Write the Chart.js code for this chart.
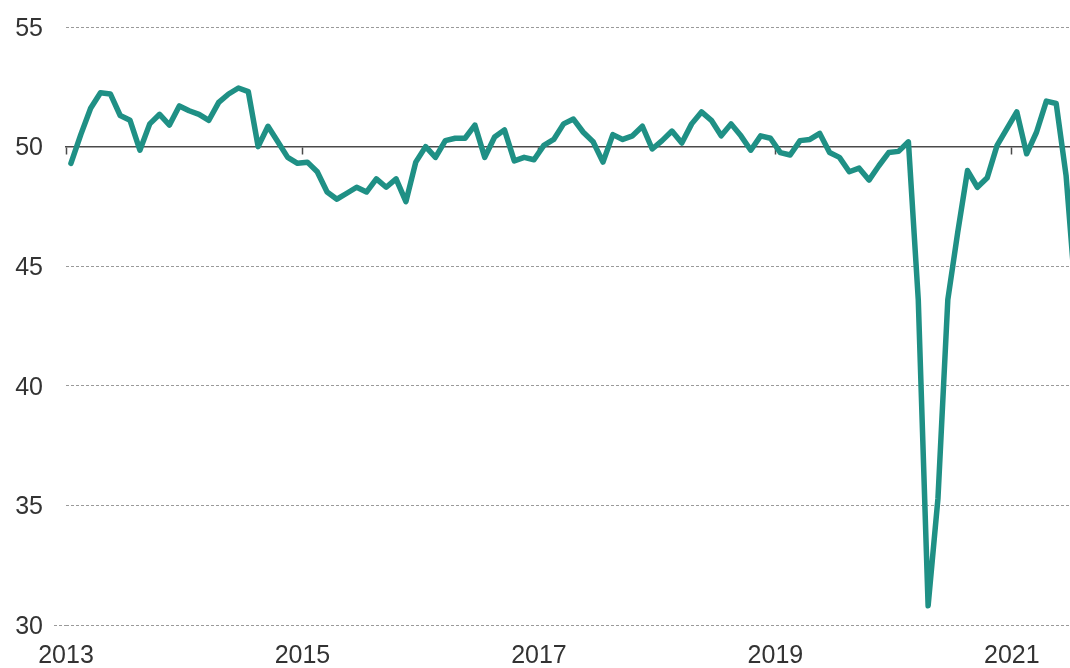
<!DOCTYPE html>
<html>
<head>
<meta charset="utf-8">
<script src="https://cdn.jsdelivr.net/npm/chart.js@4/dist/chart.umd.min.js"></script>
<style>
  html, body { margin: 0; padding: 0; background: #ffffff; }
  #wrap { width: 1070px; height: 668px; }
</style>
</head>
<body>
<div id="wrap"><canvas id="c" width="1070" height="668"></canvas></div>
<script>
// Monthly index values, Jan 2013 onward
const startYear = 2013;
const values = [
  49.3, 50.5, 51.6, 52.25, 52.2, 51.3, 51.1, 49.85, 50.95, 51.35, 50.9, 51.7,
  51.5, 51.35, 51.1, 51.85, 52.2, 52.45, 52.3, 50.0, 50.85, 50.2, 49.55, 49.3,
  49.35, 48.95, 48.1, 47.8, 48.05, 48.3, 48.1, 48.65, 48.3, 48.65, 47.7, 49.35,
  50.0, 49.55, 50.25, 50.35, 50.35, 50.9, 49.55, 50.4, 50.7, 49.4, 49.55, 49.45,
  50.05, 50.3, 50.95, 51.15, 50.6, 50.2, 49.35, 50.5, 50.3, 50.45, 50.85, 49.9,
  50.25, 50.65, 50.15, 50.95, 51.45, 51.1, 50.45, 50.95, 50.45, 49.85, 50.45, 50.35,
  49.75, 49.65, 50.25, 50.3, 50.55, 49.75, 49.55, 48.95, 49.1, 48.6, 49.2, 49.75,
  49.8, 50.2, 43.6, 30.8, 35.3, 43.6, 46.4, 49.0, 48.3, 48.7, 50.05, 50.75,
  51.45, 49.7, 50.6, 51.9, 51.8, 48.8, 43.6
];
const xTickValues = [0, 24, 48, 72, 96];          // months since Jan 2013
const xTickLabels = ['2013', '2015', '2017', '2019', '2021'];
const yTickValues = [30, 35, 40, 45, 50, 55];
const yMin = 30, yMax = 55;
const xMin = 0, xMax = 101.9;

const points = values.map((v, i) => ({ x: i + 0.5, y: v }));

const FONT = { family: "'Liberation Sans', Arial, sans-serif", size: 25, lineHeight: 1 };
const TEXT = '#333333';
const GRID = '#9a9a9a';
const AXIS = '#4a4a4a';

const setXTicks = (axis) => { axis.ticks = xTickValues.map(v => ({ value: v })); };

new Chart(document.getElementById('c'), {
  type: 'line',
  data: {
    datasets: [{
      data: points,
      borderColor: '#1f9085',
      borderWidth: 5.5,
      pointRadius: 0,
      tension: 0,
      borderJoinStyle: 'round',
      borderCapStyle: 'round',
      fill: false
    }]
  },
  options: {
    responsive: false,
    devicePixelRatio: 1,
    animation: false,
    layout: { padding: { top: 27, right: 0, bottom: 0, left: 0 } },
    plugins: { legend: { display: false }, tooltip: { enabled: false } },
    scales: {
      x: {
        type: 'linear',
        position: 'bottom',
        min: xMin, max: xMax,
        afterBuildTicks: setXTicks,
        afterFit: (axis) => { axis.height = 43; },
        grid: { display: false, drawTicks: false },
        border: { display: false },
        ticks: {
          color: TEXT, font: FONT, padding: 19, maxRotation: 0, autoSkip: false,
          callback: (v) => { const k = xTickValues.indexOf(v); return k >= 0 ? xTickLabels[k] : ''; }
        }
      },
      xMid: {
        type: 'linear',
        position: { y: 50 },
        min: xMin, max: xMax,
        afterBuildTicks: setXTicks,
        grid: { drawOnChartArea: false, drawTicks: true, tickLength: 7, tickColor: AXIS, tickWidth: 1.5 },
        border: { display: true, color: AXIS, width: 1.5 },
        ticks: { display: false }
      },
      y: {
        type: 'linear',
        position: 'left',
        min: yMin, max: yMax,
        afterBuildTicks: (axis) => { axis.ticks = yTickValues.map(v => ({ value: v })); },
        afterFit: (axis) => { axis.width = 66; },
        grid: {
          color: (ctx) => (ctx.tick && ctx.tick.value === 50) ? 'rgba(0,0,0,0)' : GRID,
          lineWidth: 1,
          drawTicks: true,
          tickLength: 12,
          tickColor: (ctx) => (ctx.tick && ctx.tick.value === 30) ? GRID : 'rgba(0,0,0,0)',
          tickBorderDash: [3, 2]
        },
        border: { display: false, dash: [3, 2] },
        ticks: { color: TEXT, font: FONT, padding: 11, labelOffset: 2, callback: (v) => String(v) }
      }
    }
  }
});
</script>
</body>
</html>
